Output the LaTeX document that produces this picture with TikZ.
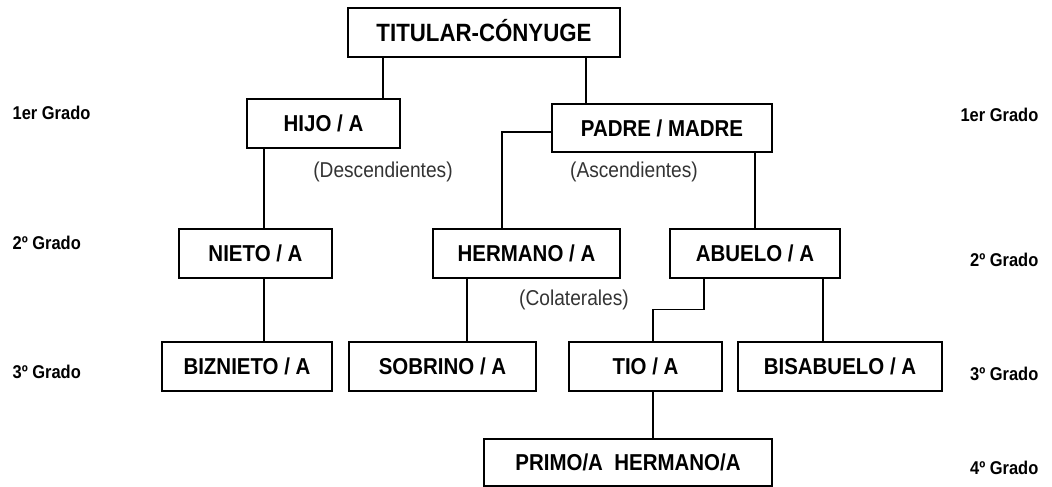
\documentclass[tikz,border=0pt]{standalone}
\usepackage{fontspec}
\setmainfont{Liberation Sans}[FakeStretch=0.89]
\usepackage{tikz}

\begin{document}
\begin{tikzpicture}[x=1pt, y=-1pt, line width=1.3pt,
        box/.style={draw, inner sep=0pt, minimum height=49pt,
            text height=16.5pt, text depth=0pt,
            font=\fontsize{23}{27}\selectfont\bfseries},
        grado/.style={inner sep=0pt, text height=13.2pt, text depth=0pt,
            font=\fontsize{18.5}{22}\selectfont\bfseries},
        rama/.style={text=black!80, font=\fontsize{21.5}{25}\selectfont}]

    \useasboundingbox (0,0) rectangle (1052,487);

    \node[box, minimum width=272pt, text height=17.9pt, font=\fontsize{25}{30}\selectfont\bfseries] (titular) at (484,32.5) {TITULAR-CÓNYUGE};

    \node[box, minimum width=153pt] (hijo) at (323.5,123.5) {HIJO / A};
    \node[box, minimum width=220pt, minimum height=48pt] (padre) at (662,128) {PADRE / MADRE};

    \node[box, minimum width=153pt] (nieto) at (255.5,253.5) {NIETO / A};
    \node[box, minimum width=187pt] (hermano) at (526.5,253.5) {HERMANO / A};
    \node[box, minimum width=170pt] (abuelo) at (755,253.5) {ABUELO / A};

    \node[box, minimum width=170pt] (biznieto) at (247,366.5) {BIZNIETO / A};
    \node[box, minimum width=187pt] (sobrino) at (442.5,366.5) {SOBRINO / A};
    \node[box, minimum width=153pt] (tio) at (645.5,366.5) {TIO / A};
    \node[box, minimum width=204pt] (bisabuelo) at (840,366.5) {BISABUELO / A};

    \node[box, minimum width=288pt, minimum height=47pt] (primo) at (628,462.5) {PRIMO/A\ \ HERMANO/A};

    % ramas
    \node[rama] (desc) at (383,172) {(Descendientes)};
    \node[rama] (asc) at (634,172) {(Ascendientes)};
    \node[rama] (col) at (574,300) {(Colaterales)};

    % grados
    \node[grado, anchor=west] (g1izq) at (12,113) {1er Grado};
    \node[grado, anchor=west] (g2izq) at (12,243) {2º Grado};
    \node[grado, anchor=west] (g3izq) at (12,372) {3º Grado};
    \node[grado, anchor=east] (g1der) at (1039,115) {1er Grado};
    \node[grado, anchor=east] (g2der) at (1039,260) {2º Grado};
    \node[grado, anchor=east] (g3der) at (1039,374) {3º Grado};
    \node[grado, anchor=east] (g4der) at (1039,468) {4º Grado};

    \path
    ([xshift=-101pt]titular.south) edge ([xshift=59.5pt]hijo.north)
    ([xshift=102pt]titular.south) edge ([xshift=-76pt]padre.north)
    ([xshift=-59.5pt]hijo.south) edge ([xshift=8.5pt]nieto.north)
    ([xshift=8.5pt]nieto.south) edge ([xshift=17pt]biznieto.north)
    ([xshift=93pt]padre.south) edge (abuelo.north)
    ([xshift=-59.5pt]hermano.south) edge ([xshift=24.5pt]sobrino.north)
    ([xshift=68pt]abuelo.south) edge ([xshift=-17pt]bisabuelo.north)
    ([xshift=7.5pt]tio.south) edge ([xshift=25pt]primo.north);

    \draw ([yshift=-4pt]padre.west) -| ([xshift=-24.5pt]hermano.north);
    \draw ([xshift=-51pt]abuelo.south) -- ++(0,31) -| ([xshift=7.5pt]tio.north);

\end{tikzpicture}
\end{document}
